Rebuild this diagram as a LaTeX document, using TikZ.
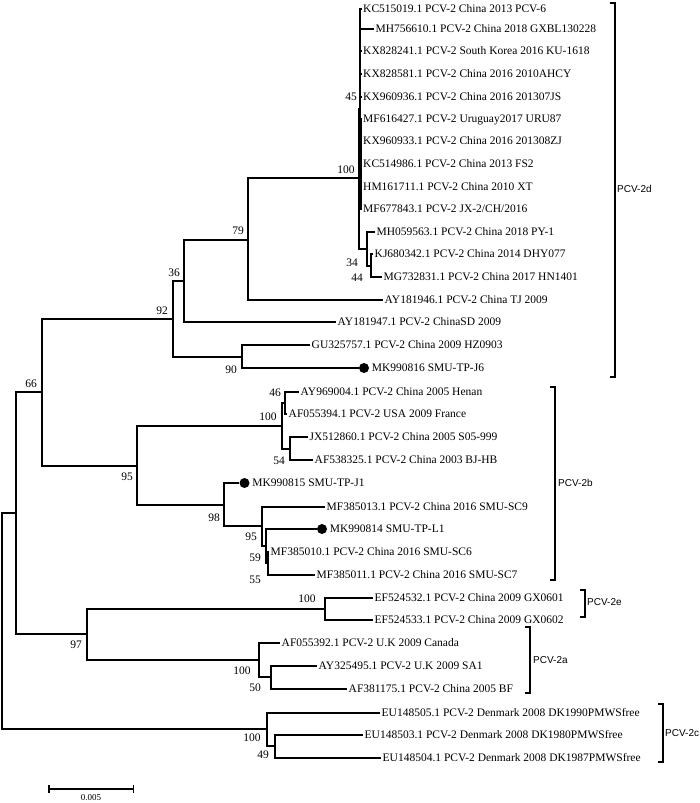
\documentclass[tikz,border=0pt]{standalone}
\usepackage{fontspec}
\setmainfont{Liberation Serif}
\newfontfamily\sansgrp{Liberation Sans}
\usepackage{tikz}
\usetikzlibrary{arrows.meta, positioning}
\newcommand{\txtarbre}{\fontsize{11.5}{13}\selectfont}
\newcommand{\txtgroupe}{\sansgrp\fontsize{10}{12}\selectfont}
\tikzset{
  branche/.style={line width=1.5pt},
  feuille/.style={anchor=west, inner sep=1.5pt, text height=7.6pt, text depth=0pt, font=\txtarbre},
  boot/.style={inner sep=0pt, text height=7.6pt, text depth=0pt, font=\txtarbre},
  pastille/.style={circle, fill=black, inner sep=0pt, minimum size=10pt},
  crochet/.style={line width=1.5pt},
  groupe/.style={anchor=west, inner sep=0pt, font=\txtgroupe},
}

\begin{document}
\begin{tikzpicture}[x=1pt, y=-1pt]
        \useasboundingbox (0,0) rectangle (700,803);
        % Noeuds internes
        \coordinate (n45) at (360,109);
        \coordinate (nz) at (361,164);
        \coordinate (n44) at (371,266);
        \coordinate (n34) at (367,249);
        \coordinate (n100d) at (359,178);
        \coordinate (n79) at (248,240);
        \coordinate (n36) at (184,281);
        \coordinate (n90) at (242,357);
        \coordinate (n92) at (173,319);
        \coordinate (n46) at (285,403);
        \coordinate (n54) at (290,449);
        \coordinate (n100b) at (282,426);
        \coordinate (n55) at (268,563);
        \coordinate (n59) at (266,546);
        \coordinate (n95c) at (262,526);
        \coordinate (n98) at (224,505);
        \coordinate (n95) at (137,466);
        \coordinate (n66) at (42,392);
        \coordinate (n100e) at (325,609);
        \coordinate (n50) at (271,677);
        \coordinate (n100a) at (259,660);
        \coordinate (n97) at (87,634);
        \coordinate (nA) at (16,513);
        \coordinate (n49) at (275,746);
        \coordinate (n100c) at (267,729);
        \coordinate (racine) at (2,621);
        % Feuilles PCV-2d
        \node[feuille] (l1) at (361.5,9) {KC515019.1 PCV-2 China 2013 PCV-6};
        \node[feuille] (l2) at (374,29) {MH756610.1 PCV-2 China 2018 GXBL130228};
        \node[feuille] (l3) at (361.5,51) {KX828241.1 PCV-2 South Korea 2016 KU-1618};
        \node[feuille] (l4) at (361.5,74) {KX828581.1 PCV-2 China 2016 2010AHCY};
        \node[feuille] (l5) at (361.5,97) {KX960936.1 PCV-2 China 2016 201307JS};
        \node[feuille] (l6) at (361.5,119) {MF616427.1 PCV-2 Uruguay2017 URU87};
        \node[feuille] (l7) at (361.5,141) {KX960933.1 PCV-2 China 2016 201308ZJ};
        \node[feuille] (l8) at (361.5,164) {KC514986.1 PCV-2 China 2013 FS2};
        \node[feuille] (l9) at (361.5,187) {HM161711.1 PCV-2 China 2010 XT};
        \node[feuille] (l10) at (361.5,209) {MF677843.1 PCV-2 JX-2/CH/2016};
        \node[feuille] (l11) at (375,232) {MH059563.1 PCV-2 China 2018 PY-1};
        \node[feuille] (l12) at (373,254) {KJ680342.1 PCV-2 China 2014 DHY077};
        \node[feuille] (l13) at (382,277) {MG732831.1 PCV-2 China 2017 HN1401};
        \node[feuille] (l14) at (383,300) {AY181946.1 PCV-2 China TJ 2009};
        \node[feuille] (l15) at (336,322) {AY181947.1 PCV-2 ChinaSD 2009};
        \node[feuille] (l16) at (310,345) {GU325757.1 PCV-2 China 2009 HZ0903};
        \node[pastille] (d17) at (364,368) {};
        \node[feuille, right=1pt of d17] (l17) {MK990816 SMU-TP-J6};
        % Feuilles PCV-2b
        \node[feuille] (l18) at (299,392) {AY969004.1 PCV-2 China 2005 Henan};
        \node[feuille] (l19) at (287,414) {AF055394.1 PCV-2 USA 2009 France};
        \node[feuille] (l20) at (308,437) {JX512860.1 PCV-2 China 2005 S05-999};
        \node[feuille] (l21) at (313,460) {AF538325.1 PCV-2 China 2003 BJ-HB};
        \node[pastille] (d22) at (244.5,483) {};
        \node[feuille, right=1pt of d22] (l22) {MK990815 SMU-TP-J1};
        \node[feuille] (l23) at (325,507) {MF385013.1 PCV-2 China 2016 SMU-SC9};
        \node[pastille] (d24) at (322,529) {};
        \node[feuille, right=1pt of d24] (l24) {MK990814 SMU-TP-L1};
        \node[feuille] (l25) at (269,552) {MF385010.1 PCV-2 China 2016 SMU-SC6};
        \node[feuille] (l26) at (315,575) {MF385011.1 PCV-2 China 2016 SMU-SC7};
        % Feuilles PCV-2e, PCV-2a, PCV-2c
        \node[feuille] (l27) at (373,598) {EF524532.1 PCV-2 China 2009 GX0601};
        \node[feuille] (l28) at (373,620) {EF524533.1 PCV-2 China 2009 GX0602};
        \node[feuille] (l29) at (280,643) {AF055392.1 PCV-2 U.K 2009 Canada};
        \node[feuille] (l30) at (317,666) {AY325495.1 PCV-2 U.K 2009 SA1};
        \node[feuille] (l31) at (347,689) {AF381175.1 PCV-2 China 2005 BF};
        \node[feuille] (l32) at (380,713) {EU148505.1 PCV-2 Denmark 2008 DK1990PMWSfree};
        \node[feuille] (l33) at (363,735) {EU148503.1 PCV-2 Denmark 2008 DK1980PMWSfree};
        \node[feuille] (l34) at (381,758) {EU148504.1 PCV-2 Denmark 2008 DK1987PMWSfree};
        % Branches PCV-2d
        \draw[branche] (n45) |- (l1.west) (n45) |- (l2.west) (n45) |- (l3.west)
          (n45) |- (l4.west) (n45) |- (l5.west) (n45) |- (nz);
        \draw[branche] (nz) |- (l6.west) (nz) |- (l7.west) (nz) |- (l8.west)
          (nz) |- (l9.west) (nz) |- (l10.west);
        \draw[branche] (n44) |- (l12.west) (n44) |- (l13.west);
        \draw[branche] (n34) |- (l11.west) (n34) |- (n44);
        \draw[branche] (n100d) |- (n45) (n100d) |- (n34);
        \draw[branche] (n79) |- (n100d) (n79) |- (l14.west);
        \draw[branche] (n36) |- (n79) (n36) |- (l15.west);
        \draw[branche] (n90) |- (l16.west) (n90) |- (d17.west);
        \draw[branche] (n92) |- (n36) (n92) |- (n90);
        % Branches PCV-2b
        \draw[branche] (n46) |- (l18.west) (n46) |- (l19.west);
        \draw[branche] (n54) |- (l20.west) (n54) |- (l21.west);
        \draw[branche] (n100b) |- (n46) (n100b) |- (n54);
        \draw[branche] (n55) |- (l25.west) (n55) |- (l26.west);
        \draw[branche] (n59) |- (d24.west) (n59) |- (n55);
        \draw[branche] (n95c) |- (l23.west) (n95c) |- (n59);
        \draw[branche] (n98) |- (d22.west) (n98) |- (n95c);
        \draw[branche] (n95) |- (n100b) (n95) |- (n98);
        \draw[branche] (n66) |- (n92) (n66) |- (n95);
        % Branches PCV-2e, PCV-2a, PCV-2c
        \draw[branche] (n100e) |- (l27.west) (n100e) |- (l28.west);
        \draw[branche] (n50) |- (l30.west) (n50) |- (l31.west);
        \draw[branche] (n100a) |- (l29.west) (n100a) |- (n50);
        \draw[branche] (n97) |- (n100e) (n97) |- (n100a);
        \draw[branche] (nA) |- (n66) (nA) |- (n97);
        \draw[branche] (n49) |- (l33.west) (n49) |- (l34.west);
        \draw[branche] (n100c) |- (l32.west) (n100c) |- (n49);
        \draw[branche] (racine) |- (nA) (racine) |- (n100c);
        % Valeurs de bootstrap
        \node[boot] (b45) at (351,97) {45};
        \node[boot] (b100d) at (346,170) {100};
        \node[boot] (b34) at (352,263) {34};
        \node[boot] (b44) at (357,278) {44};
        \node[boot] (b79) at (238,231) {79};
        \node[boot] (b36) at (174,273) {36};
        \node[boot] (b92) at (162,311) {92};
        \node[boot] (b90) at (231,370) {90};
        \node[boot] (b66) at (31,384) {66};
        \node[boot] (b46) at (275,393) {46};
        \node[boot] (b100b) at (268,417) {100};
        \node[boot] (b54) at (279,461) {54};
        \node[boot] (b95) at (127,477) {95};
        \node[boot] (b98) at (214,518) {98};
        \node[boot] (b95c) at (251,537) {95};
        \node[boot] (b59) at (255,558) {59};
        \node[boot] (b55) at (255,580) {55};
        \node[boot] (b100e) at (307,599) {100};
        \node[boot] (b97) at (76,645) {97};
        \node[boot] (b100a) at (242,671) {100};
        \node[boot] (b50) at (255,688) {50};
        \node[boot] (b100c) at (252,738) {100};
        \node[boot] (b49) at (263,755) {49};
        % Crochets des génotypes
        \draw[crochet] (610,3) -| (615,377) -- (610,377);
        \node[groupe] (g2d) at (617,189) {PCV-2d};
        \draw[crochet] (550,387) -| (555,580) -- (550,580);
        \node[groupe] (g2b) at (558,483) {PCV-2b};
        \draw[crochet] (580,590) -| (585,617) -- (580,617);
        \node[groupe] (g2e) at (587,602) {PCV-2e};
        \draw[crochet] (525,627) -| (530,693) -- (525,693);
        \node[groupe] (g2a) at (533,660) {PCV-2a};
        \draw[crochet] (658,704) -| (663,762) -- (658,762);
        \node[groupe] (g2c) at (665,733) {PCV-2c};
        % Echelle
        \coordinate (e0) at (48,789);
        \coordinate (e1) at (134,789);
        \draw[branche, {Bar[width=8pt]}-{Bar[width=8pt]}] (e0) -- (e1);
        \node[boot, font=\fontsize{9}{10}\selectfont] (echelle) at (91,797) {0.005};
      \end{tikzpicture}
\end{document}
